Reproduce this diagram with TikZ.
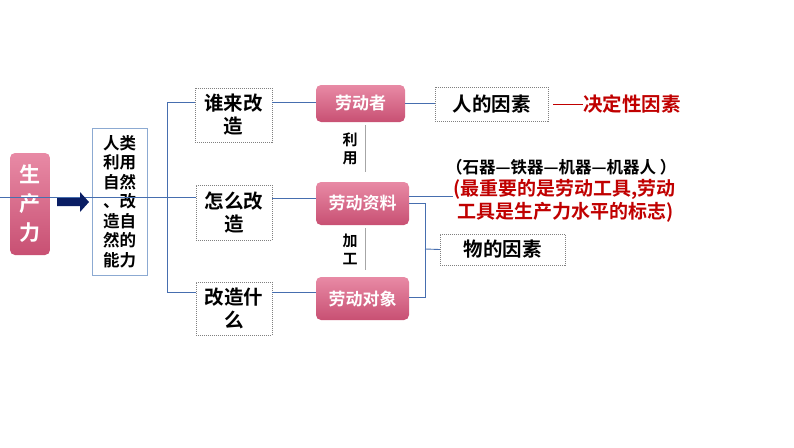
\documentclass[tikz,border=0pt]{standalone}
\usepackage{fontspec}
\setmainfont{Noto Sans CJK SC}[BoldFont={Noto Sans CJK SC Bold}]
\definecolor{pinkt}{RGB}{232,138,165}
\definecolor{pinkb}{RGB}{200,80,115}
\definecolor{dred}{RGB}{192,0,0}
\definecolor{navy}{RGB}{10,30,100}
\definecolor{lblue}{RGB}{140,170,210}
\definecolor{lineb}{RGB}{70,110,175}
\begin{document}
\begin{tikzpicture}[x=1pt,y=-1pt,
 pinkbox/.style={draw=none,rounded corners=5pt,top color=pinkt,bottom color=pinkb,text=white,font=\bfseries\fontsize{17}{19}\selectfont,inner sep=0pt},
 dbox/.style={draw=gray,dash pattern=on 1pt off 1pt,inner sep=0pt,font=\bfseries\fontsize{19.5}{23}\selectfont,align=center},
 bl/.style={draw=lineb,line width=0.9pt},
 gl/.style={draw=gray!70,line width=0.6pt},
 txt/.style={font=\bfseries\fontsize{15}{18}\selectfont}]
\useasboundingbox (0,0) rectangle (794,447);
\node[pinkbox,minimum width=40,minimum height=102,font=\bfseries\fontsize{21}{29}\selectfont,align=center] (scl) at (30,204) {生\\产\\力};
\node[draw=lblue,minimum width=55,minimum height=147,inner sep=0pt,align=center,font=\bfseries\fontsize{16.5}{19.5}\selectfont] (rl) at (119.5,201.5) {人类\\利用\\自然\\、改\\造自\\然的\\能力};
\draw[bl] (0,197) -- (190,197);
\fill[navy] (57,198)--(80,198)--(80,192)--(89,202)--(80,212)--(80,206)--(57,206)--cycle;
\node[dbox,minimum width=77,minimum height=54] (q1) at (233.5,115) {谁来改\\造};
\node[dbox,minimum width=76,minimum height=55] (q2) at (234,212.5) {怎么改\\造};
\node[dbox,minimum width=76,minimum height=53] (q3) at (234,308.5) {改造什\\么};
\coordinate (br) at (167,197);
\draw[bl] (q1.west |- 0,102) -- (167,102) -- (167,292) -- (q3.west |- 0,292);
\draw[bl] (br) -- (q2.west |- br);
\node[pinkbox,minimum width=89,minimum height=37] (p1) at (360.5,103.5) {劳动者};
\node[pinkbox,minimum width=93,minimum height=43] (p2) at (362.5,203.5) {劳动资料};
\node[pinkbox,minimum width=93,minimum height=43] (p3) at (362.5,298.5) {劳动对象};
\draw[bl] (q1.east |- 0,102) -- (p1.west |- 0,102);
\draw[bl] (q2.east |- 0,198) -- (p2.west |- 0,198);
\draw[bl] (q3.east |- 0,292) -- (p3.west |- 0,292);
\draw[gl] (365,125) -- (365,172);
\draw[gl] (365,228) -- (365,270);
\node[txt,align=center] (ly) at (350,149) {利\\用};
\node[txt,align=center] (jg) at (350,249) {加\\工};
\node[dbox,minimum width=113,minimum height=34] (rf) at (491.5,104) {人的因素};
\draw[bl] (p1.east |- 0,103) -- (rf.west |- 0,103);
\coordinate (rd) at (583,104);
\draw[dred,line width=1pt] (553,104) -- (rd);
\node[anchor=west,text=dred,font=\bfseries\fontsize{19.5}{22}\selectfont,inner sep=0pt] (jd) at (rd) {决定性因素};
\node[anchor=west,font=\bfseries\fontsize{16.5}{19}\selectfont,inner sep=0pt] (sq) at (446,167) {（石器—铁器—机器—机器人 ）};
\node[anchor=west,text=dred,font=\bfseries\fontsize{19}{23}\selectfont,align=left,inner sep=0pt] (zy) at (453,201) {(最重要的是劳动工具,劳动\\\ 工具是生产力水平的标志)};
\draw[bl] (p2.east |- 0,196) -- (zy.west |- 0,196);
\node[dbox,minimum width=125,minimum height=31] (wf) at (502.5,249.5) {物的因素};
\draw[bl] (p2.east |- 0,203) -- (425,203) -- (425,297) -- (p3.east |- 0,297);
\draw[bl] (425,249) -- (wf.west);
\end{tikzpicture}
\end{document}
